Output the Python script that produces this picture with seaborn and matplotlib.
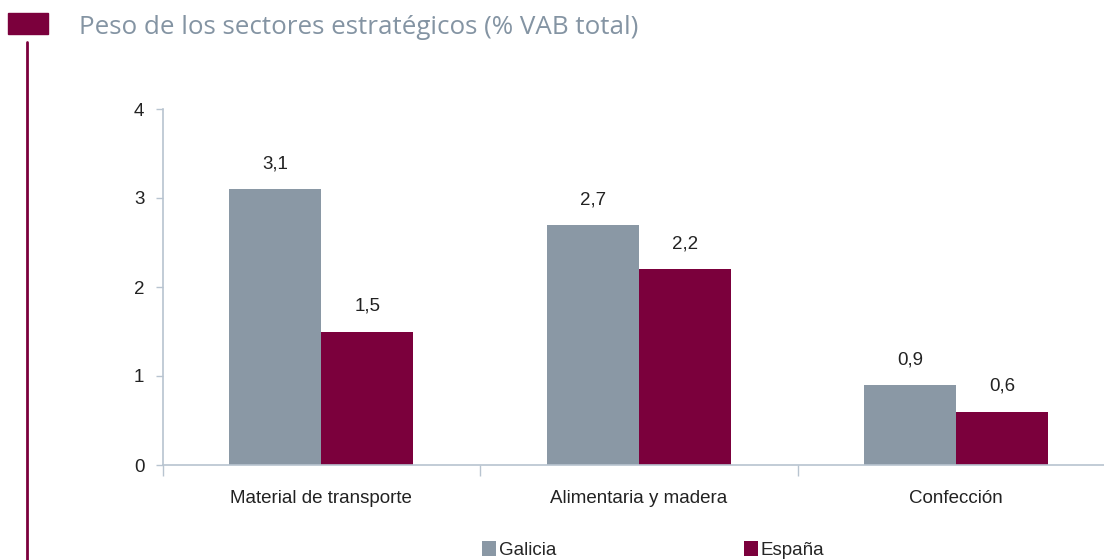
import matplotlib
matplotlib.use("Agg")
import matplotlib.pyplot as plt
import seaborn as sns
import pandas as pd
from matplotlib.patches import Rectangle, Patch
from matplotlib.lines import Line2D
from matplotlib.ticker import FixedLocator

categories = ["Material de transporte", "Alimentaria y madera", "Confección"]
series = ["Galicia", "España"]
galicia = [3.1, 2.7, 0.9]
espana = [1.5, 2.2, 0.6]
yticks = [0, 1, 2, 3, 4]
title = "Peso de los sectores estratégicos (% VAB total)"

GRAY = "#8a98a5"
MAROON = "#7b003c"
AXC = "#b8c4d0"
FS = 13.5

sns.set_theme(style="white")
plt.rcParams['font.family'] = ['Liberation Sans', 'DejaVu Sans']

df = pd.DataFrame({
    "cat": categories * 2,
    "serie": [series[0]] * 3 + [series[1]] * 3,
    "val": galicia + espana,
})

W, H = 1104, 560
fig = plt.figure(figsize=(W / 100, H / 100), dpi=100)
left, right, bottom, top = 162.5, 1115, 465, 109
ax = fig.add_axes([left / W, (H - bottom) / H, (right - left) / W, (bottom - top) / H])

sns.barplot(data=df, x="cat", y="val", hue="serie", order=categories,
            hue_order=series, palette=[GRAY, MAROON], width=0.58,
            saturation=1, ax=ax, legend=False, linewidth=0)

ax.set_ylim(0, 4)
ax.set_xlim(-0.5, 2.5)
ax.set_yticks(yticks)
ax.set_yticklabels([str(t) for t in yticks], fontsize=FS, color="#222222")
ax.set_xlabel("")
ax.set_ylabel("")
ax.tick_params(axis="y", length=5, width=1, color=AXC, pad=8, left=True)
ax.tick_params(axis="x", which="major", length=0, pad=18, labelsize=FS, labelcolor="#222222")
ax.xaxis.set_minor_locator(FixedLocator([-0.5, 0.5, 1.5]))
ax.tick_params(axis="x", which="minor", length=8, width=1, color=AXC, bottom=True)

for s in ["top", "right"]:
    ax.spines[s].set_visible(False)
for s in ["left", "bottom"]:
    ax.spines[s].set_color(AXC)
    ax.spines[s].set_linewidth(1.2)
ax.set_facecolor("none")

for cont in ax.containers:
    labels = [f"{b.get_height():.1f}".replace(".", ",") for b in cont]
    ax.bar_label(cont, labels=labels, padding=12, fontsize=FS, color="#222222")

# decorations
fig.patches.append(Rectangle((8 / W, (H - 34) / H), 40 / W, 21 / H,
                             transform=fig.transFigure, color=MAROON, zorder=5))
fig.lines.append(Line2D([27 / W, 27 / W], [0, (H - 42) / H],
                        transform=fig.transFigure, color=MAROON, linewidth=2))
fig.text(79 / W, (H - 27) / H, title, fontsize=18.7, color="#8494a3",
         ha="left", va="center", family=["Open Sans", "DejaVu Sans"])

handles = [Patch(facecolor=GRAY, edgecolor="none"), Patch(facecolor=MAROON, edgecolor="none")]
leg = fig.legend(handles, series, loc="center", bbox_to_anchor=(653 / W, (H - 550) / H),
                 ncol=2, frameon=False, fontsize=FS, handlelength=0.75, handleheight=0.9,
                 handletextpad=0.15, columnspacing=10.0, borderpad=0, borderaxespad=0)

fig.savefig("out.png", dpi=100)
